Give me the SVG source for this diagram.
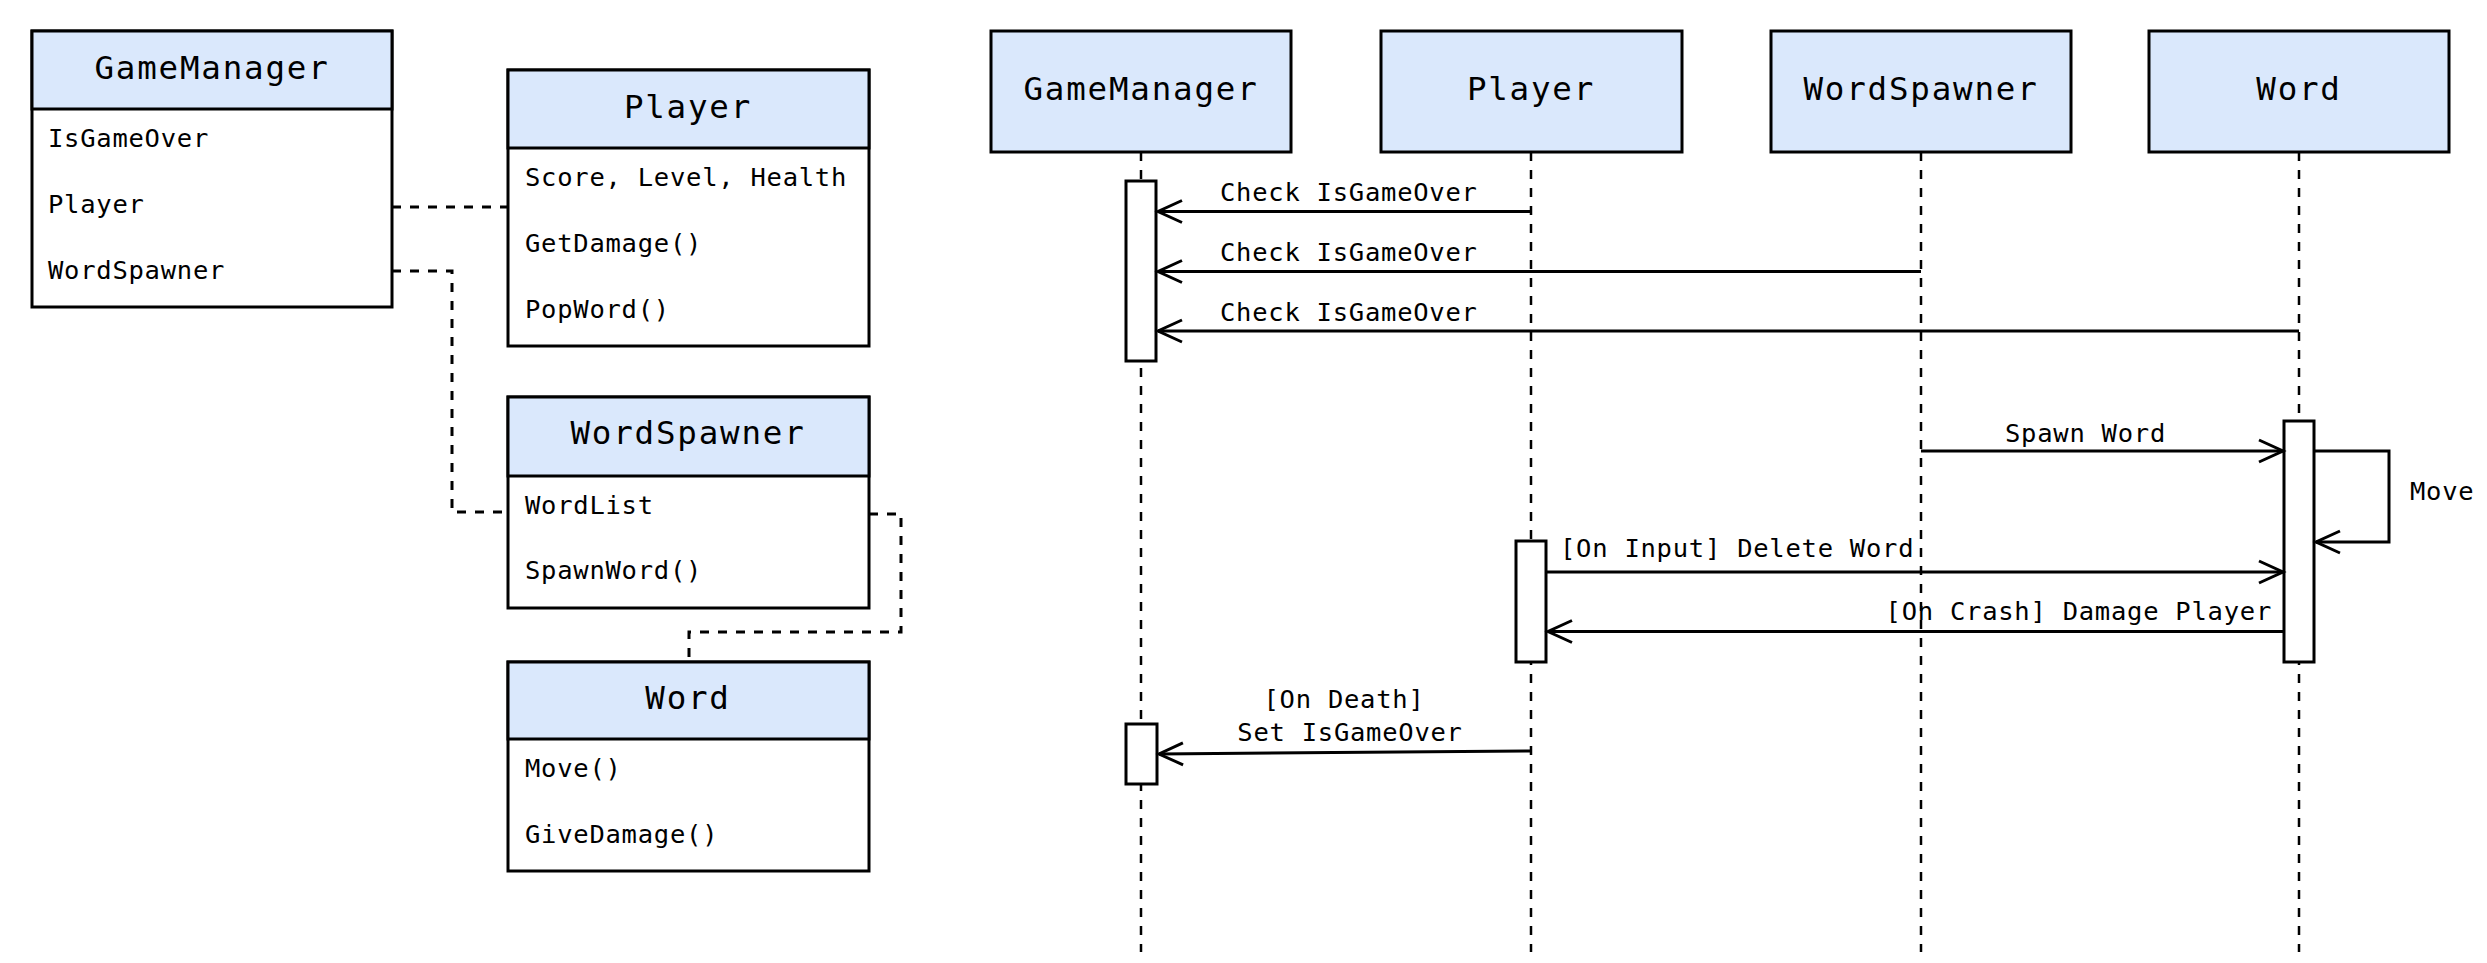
<svg xmlns="http://www.w3.org/2000/svg" width="2487" height="963" viewBox="0 0 2487 963">
<style>
.box{fill:#ffffff;stroke:#000;stroke-width:3}
.hdr{fill:#dae8fc;stroke:#000;stroke-width:3}
.ln{stroke:#000;stroke-width:3;fill:none}
.dash{stroke:#000;stroke-width:3;fill:none;stroke-dasharray:9 9}
.life{stroke:#000;stroke-width:2.5;fill:none;stroke-dasharray:9 9}
.msg{stroke:#000;stroke-width:3;fill:none;marker-end:url(#open)}
.act{fill:#ffffff;stroke:#000;stroke-width:3}
.t{font-family:"DejaVu Sans Mono","Liberation Mono",monospace;font-size:32.5px;letter-spacing:1.8px;fill:#000;text-anchor:middle}
.b{font-family:"DejaVu Sans Mono","Liberation Mono",monospace;font-size:25.5px;letter-spacing:0.75px;fill:#000}
.m{text-anchor:middle}
.e{text-anchor:end}
</style>
<defs>
<marker id="open" markerUnits="userSpaceOnUse" markerWidth="40" markerHeight="40" refX="0" refY="0" orient="auto" overflow="visible">
<path d="M -24 -11 L 0 0 L -24 11" fill="none" stroke="#000" stroke-width="3"/>
</marker>
</defs>
<rect x="0" y="0" width="2487" height="963" fill="#ffffff"/>

<g id="class-gamemanager">
<rect class="box" x="32" y="31" width="360" height="276"/>
<rect class="hdr" x="32" y="31" width="360" height="78"/>
<text class="t" x="212" y="79">GameManager</text>
<text class="b" x="48" y="147">IsGameOver</text>
<text class="b" x="48" y="213">Player</text>
<text class="b" x="48" y="279">WordSpawner</text>
</g>
<g id="class-player">
<rect class="box" x="508" y="70" width="361" height="276"/>
<rect class="hdr" x="508" y="70" width="361" height="78"/>
<text class="t" x="688" y="118">Player</text>
<text class="b" x="525" y="186">Score, Level, Health</text>
<text class="b" x="525" y="252">GetDamage()</text>
<text class="b" x="525" y="318">PopWord()</text>
</g>
<g id="class-wordspawner">
<rect class="box" x="508" y="397" width="361" height="211"/>
<rect class="hdr" x="508" y="397" width="361" height="79"/>
<text class="t" x="688" y="444">WordSpawner</text>
<text class="b" x="525" y="514">WordList</text>
<text class="b" x="525" y="579">SpawnWord()</text>
</g>
<g id="class-word">
<rect class="box" x="508" y="662" width="361" height="209"/>
<rect class="hdr" x="508" y="662" width="361" height="77"/>
<text class="t" x="688" y="709">Word</text>
<text class="b" x="525" y="777">Move()</text>
<text class="b" x="525" y="843">GiveDamage()</text>
</g>

<g id="seq-gamemanager">
<line class="life" x1="1141" y1="152" x2="1141" y2="952"/>
<rect class="hdr" x="991" y="31" width="300" height="121"/>
<text class="t" x="1141" y="100">GameManager</text>
<rect class="act" x="1126" y="181" width="30" height="180"/>
<rect class="act" x="1126" y="724" width="31" height="60"/>
</g>
<g id="seq-player">
<line class="life" x1="1531" y1="152" x2="1531" y2="952"/>
<rect class="hdr" x="1381" y="31" width="301" height="121"/>
<text class="t" x="1531" y="100">Player</text>
<rect class="act" x="1516" y="541" width="30" height="121"/>
</g>
<g id="seq-wordspawner">
<line class="life" x1="1921" y1="152" x2="1921" y2="952"/>
<rect class="hdr" x="1771" y="31" width="300" height="121"/>
<text class="t" x="1921" y="100">WordSpawner</text>
</g>
<g id="seq-word">
<line class="life" x1="2299" y1="152" x2="2299" y2="952"/>
<rect class="hdr" x="2149" y="31" width="300" height="121"/>
<text class="t" x="2299" y="100">Word</text>
<rect class="act" x="2284" y="421" width="30" height="241"/>
</g>

<g id="connectors">
<path class="dash" d="M 392 207 L 508 207"/>
<path class="dash" d="M 392 271 L 452 271 L 452 512 L 508 512"/>
<path class="dash" d="M 869 514 L 901 514 L 901 632 L 689 632 L 689 662"/>

<path class="msg" d="M 1531 211.5 L 1158 211.5"/>
<text class="b" x="1220" y="201">Check IsGameOver</text>
<path class="msg" d="M 1921 271.5 L 1158 271.5"/>
<text class="b" x="1220" y="261">Check IsGameOver</text>
<path class="msg" d="M 2299 331 L 1158 331"/>
<text class="b" x="1220" y="321">Check IsGameOver</text>

<path class="msg" d="M 1921 451 L 2283 451"/>
<text class="b" x="2005" y="442">Spawn Word</text>
<path class="msg" d="M 2314 451 L 2389 451 L 2389 542 L 2316 542"/>
<text class="b" x="2410" y="500">Move</text>

<path class="msg" d="M 1546 572 L 2283 572"/>
<text class="b" x="1560" y="557">[On Input] Delete Word</text>
<path class="msg" d="M 2284 631.5 L 1548 631.5"/>
<text class="b e" x="2272" y="620">[On Crash] Damage Player</text>

<path class="msg" d="M 1531 751 L 1159 754"/>
<text class="b m" x="1344" y="708">[On Death]</text>
<text class="b m" x="1350" y="741">Set IsGameOver</text>
</g>
</svg>
